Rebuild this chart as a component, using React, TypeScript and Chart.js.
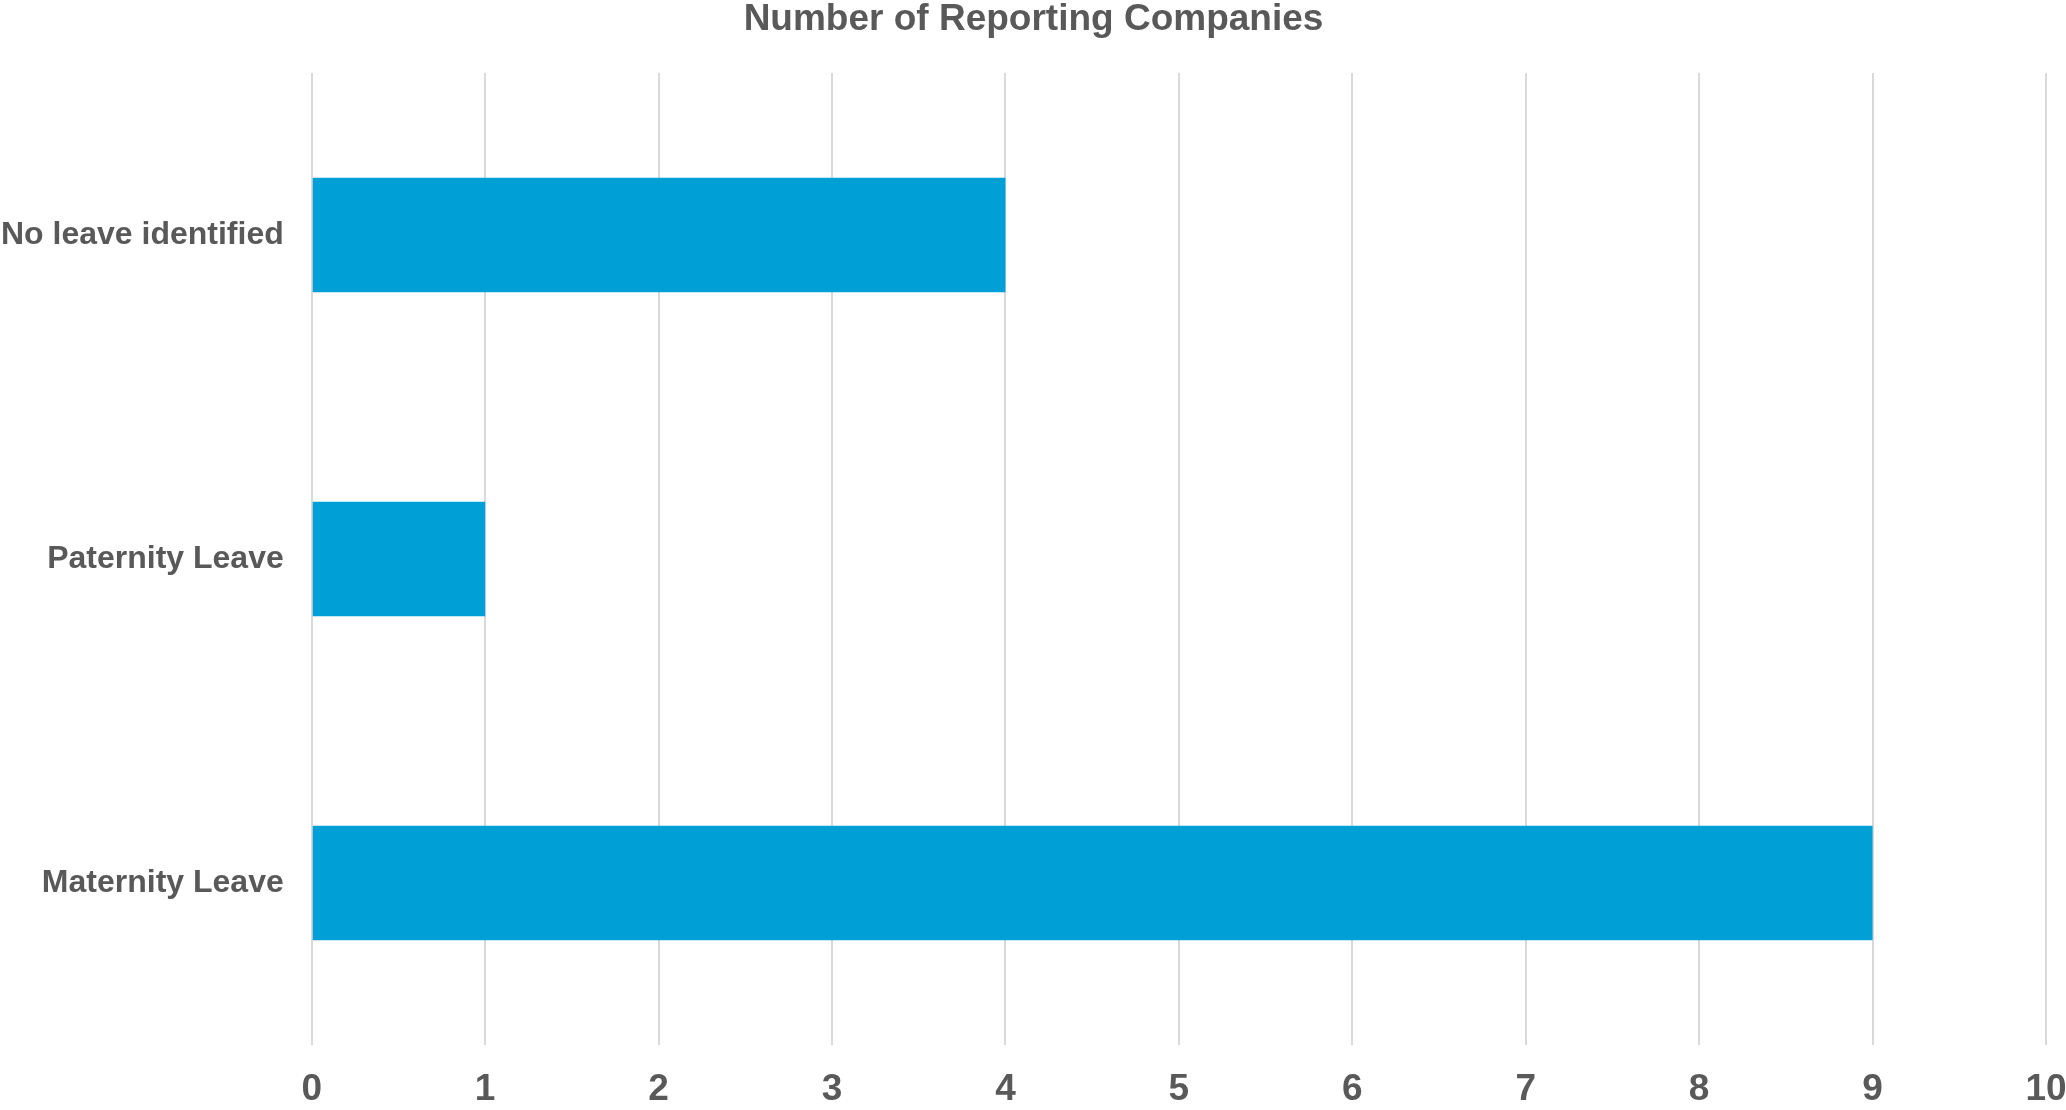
import React, { useEffect, useRef } from "react";
import { Chart, registerables } from "chart.js";

Chart.register(...registerables);

const categories = ["No leave identified", "Paternity Leave", "Maternity Leave"];
const companies = [4, 1, 9];
const chartTitle = "Number of Reporting Companies";
const xMin = 0;
const xMax = 10;
const xStep = 1;

const W = 2066;
const H = 1110;
const FONT = "'Liberation Sans', Arial, Helvetica, sans-serif";
const TEXT = "#595959";
const X_PAD = 26;
const Y_PAD = 28;

export default function App() {
  const ref = useRef<HTMLCanvasElement | null>(null);

  useEffect(() => {
    document.body.style.margin = "0";
    document.body.style.overflow = "hidden";
    const canvas = ref.current;
    if (!canvas) return;
    const chart = new Chart(canvas, {
      type: "bar",
      data: {
        labels: categories,
        datasets: [
          {
            label: chartTitle,
            data: companies,
            backgroundColor: "#009FD6",
            borderWidth: 0,
            categoryPercentage: 1,
            barPercentage: 0.354,
          },
        ],
      },
      options: {
        indexAxis: "y",
        responsive: false,
        animation: false,
        devicePixelRatio: 1,
        layout: { padding: { left: 1, right: 0, top: 0, bottom: 2 } },
        plugins: {
          legend: { display: false },
          tooltip: { enabled: false },
          title: {
            display: true,
            text: chartTitle,
            color: TEXT,
            font: { family: FONT, size: 37, weight: "bold", lineHeight: 1.0 },
            padding: { top: 1, bottom: 35 },
          },
        },
        scales: {
          x: {
            min: xMin,
            max: xMax,
            grid: {
              color: "#D9D9D9",
              lineWidth: 2,
              drawTicks: false,
            },
            border: { display: false },
            ticks: {
              stepSize: xStep,
              color: TEXT,
              padding: X_PAD,
              font: { family: FONT, size: 37, weight: "bold", lineHeight: 1.0 },
            },
            afterFit: (scale: any) => {
              scale.height -= X_PAD;
              scale.paddingRight = 20;
            },
          },
          y: {
            grid: { display: false, drawTicks: false },
            border: { display: false },
            ticks: {
              color: TEXT,
              padding: Y_PAD,
              font: { family: FONT, size: 32, weight: "bold", lineHeight: 1.0 },
            },
            afterFit: (scale: any) => {
              scale.width -= Y_PAD;
            },
          },
        },
      },
    });
    return () => chart.destroy();
  }, []);

  return (
    <div style={{ position: "fixed", left: 0, top: 0, width: W, height: H, background: "#fff" }}>
      <canvas ref={ref} width={W} height={H} style={{ width: W, height: H, display: "block" }} />
    </div>
  );
}
